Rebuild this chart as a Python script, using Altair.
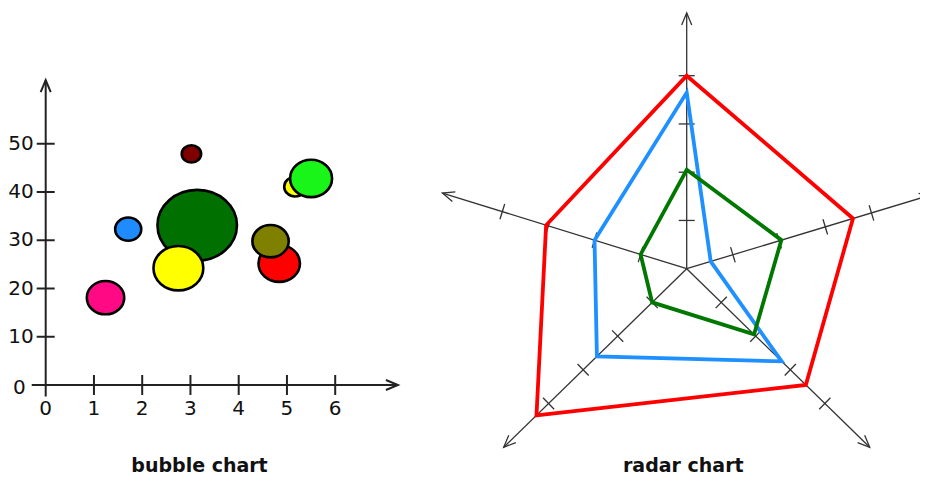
import math
import altair as alt
import pandas as pd

# ---------------- bubble chart values ----------------
bubble_names = ["maroon", "blue", "pink", "green", "yellow big", "yellow small", "lime", "red", "olive"]
bubble_x = [3.02, 1.71, 1.24, 3.14, 2.75, 5.17, 5.50, 4.84, 4.66]
bubble_y = [47.9, 32.3, 18.1, 33.1, 24.2, 41.1, 42.8, 25.2, 29.8]
bubble_value = [9.4, 17, 35, 158, 62, 12, 44, 43, 33]
bubble_x_ticks = [1, 2, 3, 4, 5, 6]
bubble_x_labels = ["0", "1", "2", "3", "4", "5", "6"]
bubble_y_ticks = [10, 20, 30, 40, 50]
bubble_y_labels = ["10", "20", "30", "40", "50"]
bubble_x_extent = [-0.29, 7.3]
bubble_y_extent = [-2.4, 63.2]

# ---------------- radar chart values ----------------
radar_axes = ["A", "B", "C", "D", "E"]
radar_series = ["series 1", "series 2", "series 3"]
radar_s1 = [4.0, 3.6, 3.45, 4.35, 3.05]
radar_s2 = [3.65, 0.52, 2.75, 2.6, 2.0]
radar_s3 = [2.05, 2.05, 1.95, 1.0, 1.0]
radar_ticks = [1, 2, 3, 4]
radar_max = 5.3

titles = ["bubble chart", "radar chart"]

# ---------------- styles / layout ----------------
BUBBLE_COLORS = ["#800000", "#1e8cff", "#ff0a84", "#007000", "#ffff00",
                 "#ffff00", "#19f519", "#ff0000", "#7f7f00"]
RADAR_COLORS = ["#ff0000", "#1e90ff", "#007800"]
AXIS_COLOR = "#222222"
W, H = 912, 469
PX = 48.25                       # pixels per unit (1 on x, 10 on bubble y)
OX, OY = 37.7, 377.0             # bubble origin inside the chart (px)
RCX, RCY = 678.7, 260.7          # radar centre inside the chart (px)
AXIS_ANGLES = [90, 16.8, 315.7, 224.3, 162.8]
FONT = "DejaVu Sans"
ARROW = "M -0.42 1 L 0 0 L 0.42 1"
ELLIPSE = "M -1 0 A 1 0.89 0 0 1 1 0 A 1 0.89 0 0 1 -1 0 Z"

cx = (RCX - OX) / PX
cy = (OY - RCY) / PX

xs = alt.Scale(domain=[-OX / PX, (W - OX) / PX], nice=False, zero=False)
ys = alt.Scale(domain=[-(H - OY) / PX, OY / PX], nice=False, zero=False)


def X(f="x"):
    return alt.X(f"{f}:Q", scale=xs, axis=None)


def Y(f="y"):
    return alt.Y(f"{f}:Q", scale=ys, axis=None)


def sym_angle(theta):
    return (90 - theta) % 360


# ---------------- bubble chart tables ----------------
bubbles = pd.DataFrame({"name": bubble_names, "x": bubble_x,
                        "y": [v / 10 for v in bubble_y], "value": bubble_value})

b_axes = pd.DataFrame({
    "x": [bubble_x_extent[0], 0], "x2": [bubble_x_extent[1], 0],
    "y": [0, bubble_y_extent[0] / 10], "y2": [0, bubble_y_extent[1] / 10],
})
b_arrows = pd.DataFrame({
    "x": [bubble_x_extent[1], 0], "y": [0, bubble_y_extent[1] / 10],
    "ang": [sym_angle(0), sym_angle(90)],
})
b_xticks = pd.DataFrame({"x": bubble_x_ticks, "y": [0] * len(bubble_x_ticks)})
b_yticks = pd.DataFrame({"x": [0] * len(bubble_y_ticks), "y": [v / 10 for v in bubble_y_ticks]})
b_xlabels = pd.DataFrame({"x": list(range(len(bubble_x_labels))), "y": [0] * len(bubble_x_labels),
                          "t": bubble_x_labels})
b_ylabels = pd.DataFrame({"x": [0] * len(bubble_y_ticks), "y": [v / 10 for v in bubble_y_ticks],
                          "t": bubble_y_labels})
b_zero = pd.DataFrame({"x": [0], "y": [0], "t": ["0"]})

# ---------------- radar chart tables ----------------
rows = []
for s, vals in zip(radar_series, [radar_s1, radar_s2, radar_s3]):
    for k, (a, v) in enumerate(zip(radar_axes, vals)):
        th = math.radians(AXIS_ANGLES[k])
        rows.append({"series": s, "axis": a, "k": k,
                     "x": cx + v * math.cos(th), "y": cy + v * math.sin(th)})
radar = pd.DataFrame(rows)

r_axes = pd.DataFrame([{"axis": a, "x": cx, "y": cy,
                        "x2": cx + radar_max * math.cos(math.radians(t)),
                        "y2": cy + radar_max * math.sin(math.radians(t)),
                        "ang": sym_angle(t)}
                       for a, t in zip(radar_axes, AXIS_ANGLES)])
r_ticks = pd.DataFrame([{"axis": a, "x": cx + v * math.cos(math.radians(t)),
                         "y": cy + v * math.sin(math.radians(t)), "ang": sym_angle(t)}
                        for a, t in zip(radar_axes, AXIS_ANGLES) for v in radar_ticks])

# titles sit on the chart's bottom edge
title_df = pd.DataFrame({
    "t": titles,
    "x": [(199.5 - 8 - OX) / PX, (683.3 - 8 - OX) / PX],
    "y": [(OY - (H - 1)) / PX, (OY - (H - 1)) / PX],
})

# ---------------- layers ----------------
layers = []

# bubble chart axes
layers.append(alt.Chart(b_axes).mark_rule(color=AXIS_COLOR, strokeWidth=2).encode(
    x=X(), y=Y(), x2="x2:Q", y2="y2:Q"))
layers.append(alt.Chart(b_arrows).mark_point(shape=ARROW, size=576, filled=False, opacity=1,
                                             color=AXIS_COLOR, strokeWidth=2).encode(
    x=X(), y=Y(), angle=alt.Angle("ang:Q", scale=None)))
layers.append(alt.Chart(b_xticks).mark_point(shape="stroke", size=400, angle=90, opacity=1,
                                             color=AXIS_COLOR, strokeWidth=2).encode(x=X(), y=Y()))
layers.append(alt.Chart(b_yticks).mark_point(shape="stroke", size=324, opacity=1,
                                             color=AXIS_COLOR, strokeWidth=2).encode(x=X(), y=Y()))
layers.append(alt.Chart(b_xlabels).mark_text(font=FONT, fontSize=20, color="#111", align="center",
                                             baseline="alphabetic", dy=30).encode(
    x=X(), y=Y(), text="t:N"))
layers.append(alt.Chart(b_ylabels).mark_text(font=FONT, fontSize=20, color="#111", align="right",
                                             baseline="middle", dx=-12).encode(
    x=X(), y=Y(), text="t:N"))
layers.append(alt.Chart(b_zero).mark_text(font=FONT, fontSize=20, color="#111", align="right",
                                          baseline="middle", dx=-20, dy=3).encode(
    x=X(), y=Y(), text="t:N"))

# bubbles
layers.append(alt.Chart(bubbles).mark_point(shape=ELLIPSE, filled=True, opacity=1,
                                            stroke="black", strokeWidth=2.6).encode(
    x=X(), y=Y(),
    fill=alt.Fill("name:N", scale=alt.Scale(domain=bubble_names, range=BUBBLE_COLORS), legend=None),
    size=alt.Size("value:Q", scale=alt.Scale(domain=[0, 100], range=[0, 4000]), legend=None),
    order=alt.Order("idx:Q"),
).transform_window(idx="row_number()"))

# radar axes
layers.append(alt.Chart(r_axes).mark_rule(color="#333", strokeWidth=1.3).encode(
    x=X(), y=Y(), x2="x2:Q", y2="y2:Q"))
layers.append(alt.Chart(r_axes).mark_point(shape=ARROW, size=576, filled=False, opacity=1,
                                           color="#333", strokeWidth=1.3).encode(
    x=X("x2"), y=Y("y2"), angle=alt.Angle("ang:Q", scale=None)))
layers.append(alt.Chart(r_ticks).mark_point(shape="stroke", size=256, opacity=1,
                                            color="#333", strokeWidth=1.3).encode(
    x=X(), y=Y(), angle=alt.Angle("ang:Q", scale=None)))

# radar series
layers.append(alt.Chart(radar).mark_line(strokeWidth=3.8, interpolate="linear-closed").encode(
    x=X(), y=Y(),
    stroke=alt.Stroke("series:N", scale=alt.Scale(domain=radar_series, range=RADAR_COLORS),
                      legend=None),
    order=alt.Order("k:Q"),
))

# titles
layers.append(alt.Chart(title_df).mark_text(font=FONT, fontSize=19, fontWeight="bold", color="#111",
                                            align="center", baseline="bottom").encode(
    x=X(), y=Y(), text="t:N"))

chart = alt.layer(*layers).properties(
    width=W, height=H, padding=0, autosize=alt.AutoSizeParams(type="none"),
    background="white",
).configure_view(stroke=None)

chart.save("out.html", embed_options={"renderer": "svg", "actions": False})
